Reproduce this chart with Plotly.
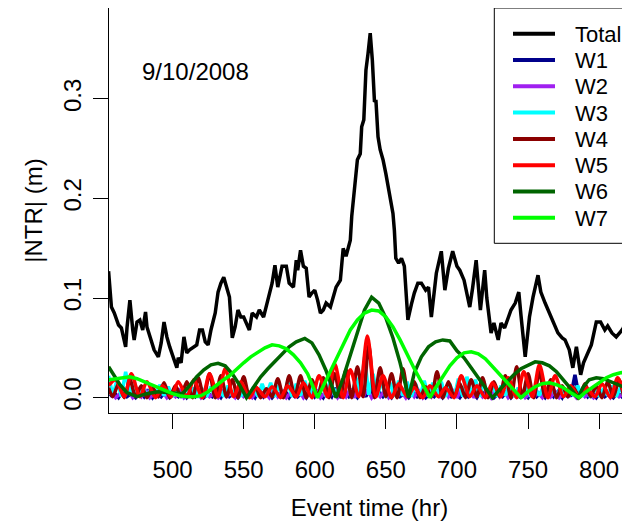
import plotly.graph_objects as go

# ---------------- data ----------------
total_x = [455, 456, 457, 459, 462, 464, 467, 468, 470, 472, 473, 475, 477, 479, 481, 482, 484, 485, 487, 490,
           492, 494, 496, 498, 500, 503, 504, 506, 508, 510, 512, 514, 517, 519, 521, 523, 525, 527, 530, 532,
           534, 536, 538, 540, 542, 544, 546, 548, 550, 552, 554, 556, 559, 561, 564, 567, 570, 572, 574, 577,
           580, 582, 585, 587, 588, 590, 592, 594, 596, 598, 600, 602, 604, 606, 608, 611, 613, 615, 618, 620,
           622, 625, 626, 628, 630, 632, 633, 634.5, 636, 637.5, 639, 640.5, 642, 643, 644.5, 646, 648, 650, 653, 655,
           656, 657, 659, 661, 663, 665.5, 668, 670, 672.5, 675, 678, 680, 682, 685.5, 689, 691.5, 694, 697, 700, 702,
           705, 707, 709, 711, 713.5, 716.5, 719.5, 721, 724, 726, 729, 731, 733.5, 736, 738, 741, 743.5, 745, 748, 751,
           753.5, 757, 759, 762, 766, 769, 771, 774, 776, 779, 781.5, 784, 787, 789, 791, 794.5, 798, 801, 804, 806,
           809, 812, 815, 817, 819, 822]
total_y = [0.127, 0.110, 0.091, 0.085, 0.073, 0.070, 0.051, 0.071, 0.098, 0.068, 0.058, 0.076, 0.078, 0.068, 0.086, 0.071, 0.061, 0.055, 0.048, 0.041,
           0.055, 0.076, 0.061, 0.051, 0.043, 0.030, 0.040, 0.035, 0.061, 0.045, 0.048, 0.050, 0.053, 0.068, 0.068, 0.056, 0.053, 0.068, 0.085, 0.106,
           0.115, 0.121, 0.110, 0.101, 0.060, 0.071, 0.088, 0.081, 0.081, 0.075, 0.068, 0.085, 0.081, 0.088, 0.081, 0.098, 0.115, 0.133, 0.111, 0.132,
           0.132, 0.115, 0.111, 0.138, 0.128, 0.148, 0.132, 0.130, 0.101, 0.105, 0.108, 0.098, 0.085, 0.088, 0.095, 0.091, 0.101, 0.111, 0.118, 0.150,
           0.142, 0.158, 0.182, 0.212, 0.239, 0.245, 0.272, 0.279, 0.329, 0.346, 0.366, 0.339, 0.297, 0.299, 0.262, 0.249, 0.239, 0.225, 0.199, 0.185,
           0.168, 0.140, 0.135, 0.140, 0.132, 0.078, 0.094, 0.105, 0.115, 0.115, 0.108, 0.111, 0.081, 0.125, 0.147, 0.108, 0.130, 0.147, 0.132, 0.128,
           0.118, 0.105, 0.091, 0.110, 0.138, 0.088, 0.128, 0.100, 0.065, 0.075, 0.058, 0.075, 0.070, 0.080, 0.088, 0.095, 0.106, 0.083, 0.041, 0.081,
           0.101, 0.123, 0.106, 0.095, 0.081, 0.071, 0.065, 0.060, 0.058, 0.048, 0.030, 0.051, 0.023, 0.035, 0.041, 0.053, 0.076, 0.076, 0.068, 0.072,
           0.065, 0.061, 0.066, 0.070, 0.080, 0.098]

w1_x = list(range(456, 823, 3))
w1_y = [0.001, 0.005, 0.000, 0.007, 0.001, 0.004, 0.000, 0.006, 0.001, 0.008, 0.000, 0.005, 0.001, 0.006, 0.000, 0.004, 0.001, 0.007, 0.000, 0.005,
        0.001, 0.006, 0.000, 0.004, 0.001, 0.005, 0.000, 0.007, 0.001, 0.004, 0.000, 0.006, 0.001, 0.005, 0.000, 0.008, 0.001, 0.006, 0.000, 0.005,
        0.001, 0.007, 0.000, 0.006, 0.001, 0.005, 0.000, 0.008, 0.001, 0.006, 0.000, 0.007, 0.001, 0.010, 0.000, 0.006, 0.001, 0.005, 0.000, 0.007,
        0.001, 0.011, 0.000, 0.006, 0.001, 0.005, 0.000, 0.007, 0.001, 0.004, 0.000, 0.006, 0.001, 0.005, 0.000, 0.004, 0.001, 0.006, 0.000, 0.005,
        0.001, 0.004, 0.000, 0.006, 0.001, 0.005, 0.000, 0.007, 0.001, 0.005, 0.000, 0.004, 0.001, 0.006, 0.000, 0.005, 0.001, 0.004, 0.000, 0.006,
        0.001, 0.005, 0.000, 0.007, 0.001, 0.006, 0.000, 0.009, 0.001, 0.023, 0.000, 0.008, 0.001, 0.005, 0.000, 0.006, 0.001, 0.004, 0.000, 0.005,
        0.001, 0.006, 0.000]

w2_x = list(range(457, 822, 3))
w2_y = [0.006, 0.000, 0.004, 0.001, 0.007, 0.000, 0.005, 0.001, 0.008, 0.000, 0.004, 0.001, 0.006, 0.000, 0.005, 0.001, 0.007, 0.000, 0.004, 0.001,
        0.006, 0.000, 0.005, 0.001, 0.004, 0.000, 0.006, 0.001, 0.005, 0.000, 0.007, 0.001, 0.004, 0.000, 0.006, 0.001, 0.005, 0.000, 0.008, 0.001,
        0.006, 0.000, 0.005, 0.001, 0.007, 0.000, 0.006, 0.001, 0.008, 0.000, 0.005, 0.001, 0.006, 0.000, 0.007, 0.001, 0.009, 0.000, 0.012, 0.001,
        0.008, 0.000, 0.006, 0.001, 0.007, 0.000, 0.005, 0.001, 0.006, 0.000, 0.008, 0.001, 0.007, 0.000, 0.006, 0.001, 0.008, 0.000, 0.009, 0.001,
        0.007, 0.000, 0.008, 0.001, 0.009, 0.000, 0.007, 0.001, 0.006, 0.000, 0.008, 0.001, 0.007, 0.000, 0.005, 0.001, 0.006, 0.000, 0.004, 0.001,
        0.005, 0.000, 0.007, 0.001, 0.006, 0.000, 0.004, 0.001, 0.005, 0.000, 0.006, 0.001, 0.004, 0.000, 0.005, 0.001, 0.007, 0.000, 0.005, 0.001,
        0.004, 0.000]

w3_x = list(range(455, 822, 3))
w3_y = [0.022, 0.002, 0.018, 0.001, 0.026, 0.003, 0.016, 0.001, 0.012, 0.000, 0.010, 0.001, 0.013, 0.002, 0.011, 0.001, 0.009, 0.000, 0.012, 0.001,
        0.010, 0.002, 0.008, 0.001, 0.011, 0.000, 0.009, 0.001, 0.012, 0.002, 0.010, 0.001, 0.013, 0.000, 0.011, 0.001, 0.014, 0.002, 0.015, 0.001,
        0.013, 0.000, 0.016, 0.001, 0.014, 0.002, 0.017, 0.001, 0.015, 0.000, 0.016, 0.001, 0.018, 0.002, 0.014, 0.001, 0.017, 0.000, 0.020, 0.002,
        0.041, 0.003, 0.024, 0.001, 0.017, 0.000, 0.015, 0.001, 0.017, 0.002, 0.016, 0.001, 0.014, 0.000, 0.017, 0.001, 0.015, 0.002, 0.016, 0.001,
        0.014, 0.000, 0.019, 0.001, 0.021, 0.002, 0.018, 0.001, 0.016, 0.000, 0.014, 0.001, 0.012, 0.002, 0.013, 0.001, 0.010, 0.000, 0.011, 0.001,
        0.009, 0.002, 0.012, 0.001, 0.010, 0.000, 0.011, 0.001, 0.009, 0.002, 0.012, 0.001, 0.010, 0.000, 0.011, 0.001, 0.009, 0.002, 0.012, 0.001,
        0.010, 0.000, 0.011]

w4_x = [455] + list(range(458, 823, 4))
w4_y = [0.010,
        0.001, 0.014, 0.000, 0.018, 0.001, 0.012, 0.000, 0.010, 0.001, 0.015, 0.000, 0.012, 0.001, 0.016, 0.000, 0.020, 0.001, 0.024, 0.000, 0.022,
        0.001, 0.018, 0.000, 0.021, 0.001, 0.012, 0.000, 0.009, 0.001, 0.019, 0.000, 0.022, 0.001, 0.022, 0.000, 0.018, 0.001, 0.020, 0.000, 0.024,
        0.001, 0.028, 0.000, 0.031, 0.001, 0.053, 0.000, 0.030, 0.001, 0.024, 0.000, 0.029, 0.001, 0.016, 0.000, 0.011, 0.001, 0.026, 0.000, 0.016,
        0.001, 0.014, 0.000, 0.018, 0.001, 0.020, 0.000, 0.016, 0.001, 0.022, 0.000, 0.031, 0.001, 0.024, 0.000, 0.026, 0.001, 0.018, 0.000, 0.012,
        0.001, 0.010, 0.000, 0.014, 0.001, 0.012, 0.000, 0.016, 0.001, 0.018, 0.000, 0.020]

w5_x = [455, 460, 466, 471, 477, 482, 488, 493, 499, 504, 510, 515, 521, 526, 532, 537, 543, 548, 554, 559,
        565, 570, 576, 581, 587, 592, 598, 603, 609, 614, 620, 625, 631, 637, 643, 648, 654, 659, 665, 670,
        676, 681, 687, 692, 698, 703, 709, 714, 720, 725, 731, 736, 742, 747, 753, 758, 764, 769, 775, 780,
        786, 791, 797, 802, 808, 813, 819, 822]
w5_y = [0.012, 0.018, 0.001, 0.024, 0.001, 0.016, 0.000, 0.012, 0.001, 0.016, 0.001, 0.018, 0.000, 0.024, 0.001, 0.029, 0.001, 0.016, 0.000, 0.010,
        0.001, 0.011, 0.000, 0.012, 0.001, 0.015, 0.000, 0.022, 0.001, 0.034, 0.000, 0.028, 0.001, 0.062, 0.001, 0.022, 0.000, 0.014, 0.001, 0.010,
        0.000, 0.012, 0.001, 0.010, 0.000, 0.022, 0.001, 0.012, 0.000, 0.015, 0.001, 0.020, 0.000, 0.026, 0.001, 0.033, 0.000, 0.022, 0.001, 0.012,
        0.000, 0.010, 0.001, 0.014, 0.000, 0.020, 0.001, 0.012]

w6_x = [455, 459, 463, 468, 475, 482, 490, 498, 507, 512, 517, 522, 527, 532, 537, 542, 547, 552, 557, 562,
        567, 572, 577, 582, 587, 593, 598, 603, 608, 612, 615, 620, 625, 630, 635, 640, 645, 650, 655, 660,
        666, 670, 675, 680, 685, 690, 695, 700, 705, 710, 715, 720, 725, 730, 735, 740, 745, 750, 755, 760,
        765, 770, 775, 780, 785, 789, 793, 798, 803, 808, 813, 818, 822]
w6_y = [0.031, 0.022, 0.013, 0.005, 0.001, 0.004, 0.006, 0.005, 0.004, 0.012, 0.021, 0.028, 0.033, 0.0345, 0.032, 0.024, 0.013, 0.000, 0.011, 0.021,
        0.029, 0.036, 0.044, 0.051, 0.056, 0.0595, 0.055, 0.043, 0.027, 0.012, 0.000, 0.020, 0.042, 0.066, 0.088, 0.101, 0.095, 0.080, 0.060, 0.035,
        0.000, 0.025, 0.041, 0.051, 0.056, 0.058, 0.057, 0.047, 0.040, 0.030, 0.020, 0.010, 0.000, 0.008, 0.016, 0.023, 0.029, 0.033, 0.036, 0.035,
        0.032, 0.026, 0.018, 0.009, 0.000, 0.011, 0.018, 0.020, 0.019, 0.016, 0.013, 0.010, 0.008]

w7_x = [455, 460, 465, 470, 475, 480, 485, 490, 495, 500, 505, 510, 515, 520, 525, 530, 535, 540, 545, 550,
        555, 560, 565, 570, 575, 580, 585, 590, 595, 602, 606, 610, 615, 620, 625, 630, 635, 640, 645, 650,
        655, 660, 665, 670, 675, 681, 685, 690, 695, 700, 705, 710, 715, 720, 725, 730, 735, 740, 745, 750,
        755, 760, 765, 770, 775, 780, 786, 790, 795, 800, 805, 810, 815, 822]
w7_y = [0.018, 0.019, 0.0205, 0.021, 0.019, 0.016, 0.013, 0.010, 0.007, 0.004, 0.002, 0.001, 0.001, 0.002, 0.006, 0.012, 0.017, 0.022, 0.029, 0.035,
        0.041, 0.046, 0.050, 0.053, 0.052, 0.049, 0.043, 0.035, 0.024, 0.000, 0.012, 0.024, 0.038, 0.054, 0.068, 0.078, 0.085, 0.088, 0.087, 0.081,
        0.071, 0.058, 0.043, 0.029, 0.016, 0.000, 0.010, 0.021, 0.032, 0.040, 0.045, 0.046, 0.044, 0.039, 0.031, 0.023, 0.015, 0.008, 0.000, 0.006,
        0.011, 0.014, 0.015, 0.013, 0.010, 0.005, 0.000, 0.005, 0.010, 0.015, 0.020, 0.023, 0.025, 0.026]

series_names = ["Total", "W1", "W2", "W3", "W4", "W5", "W6", "W7"]
series_colors = ["#000000", "#00008B", "#A020F0", "#00FFFF", "#8B0000", "#FF0000", "#006400", "#00FF00"]
series_x = [total_x, w1_x, w2_x, w3_x, w4_x, w5_x, w6_x, w7_x]
series_y = [total_y, w1_y, w2_y, w3_y, w4_y, w5_y, w6_y, w7_y]
series_shape = ["linear", "linear", "linear", "linear", "spline", "spline", "linear", "linear"]

x_ticks = [500, 550, 600, 650, 700, 750, 800]
y_ticks = [0.0, 0.1, 0.2, 0.3]
event_label = "9/10/2008"

# ---------------- figure ----------------
# the page body has an 8px margin, so the figure is drawn 8px smaller and all
# reference positions (page pixels) are shifted by OFF
OFF = 8
W, H = 630 - OFF, 521 - OFF
ML, MR, MT, MB = 101, 0, 0, 108
PW, PH = W - ML - MR, H - MT - MB
FONT = "Liberation Sans, Arial, Helvetica, sans-serif"


def px_x(px):
    return (px - OFF - ML) / PW


def px_y(py):
    return (H - MB - (py - OFF)) / PH


fig = go.Figure()
for name, color, xs, ys, shp in zip(series_names, series_colors, series_x, series_y, series_shape):
    n = min(len(xs), len(ys))
    fig.add_trace(go.Scatter(
        x=xs[:n], y=ys[:n], mode="lines", name=name,
        line=dict(color=color, width=3.5, shape=shp, smoothing=0.8 if shp == "spline" else None),
        showlegend=False, hoverinfo="skip"))

shapes = []
annotations = []

# legend box (R style), top-right, clipped by the right edge
leg_left, leg_bottom = 494.3, 243.3
shapes.append(dict(type="rect", xref="paper", yref="paper",
                   x0=px_x(leg_left), x1=px_x(640), y0=px_y(leg_bottom), y1=1.0,
                   line=dict(color="black", width=1), fillcolor="rgba(0,0,0,0)", layer="above"))
for i, (name, color) in enumerate(zip(series_names, series_colors)):
    yc = 33.7 + 26.3 * i
    shapes.append(dict(type="line", xref="paper", yref="paper",
                       x0=px_x(513), x1=px_x(555), y0=px_y(yc), y1=px_y(yc),
                       line=dict(color=color, width=4)))
    annotations.append(dict(xref="paper", yref="paper", x=px_x(573), y=px_y(yc + 0.5),
                            text=name, showarrow=False, xanchor="left", yanchor="middle",
                            font=dict(family=FONT, size=22, color="black")))

annotations.append(dict(xref="paper", yref="paper", x=px_x(195), y=px_y(72),
                        text=event_label, showarrow=False, xanchor="center", yanchor="middle",
                        font=dict(family=FONT, size=24, color="black")))

fig.update_layout(
    width=W, height=H,
    margin=dict(l=ML, r=MR, t=MT, b=MB, pad=0),
    paper_bgcolor="white", plot_bgcolor="white",
    font=dict(family=FONT, size=24, color="black"),
    shapes=shapes, annotations=annotations,
    showlegend=False,
)
fig.update_xaxes(
    range=[455.3, 821.7], tickvals=x_ticks, ticktext=[str(v) for v in x_ticks],
    ticks="outside", ticklen=15, tickwidth=1, tickcolor="black",
    showline=True, linecolor="black", linewidth=1, mirror=True,
    showgrid=False, zeroline=False,
    tickfont=dict(family=FONT, size=24, color="black"), ticklabelstandoff=20,
    title=dict(text="Event time (hr)", font=dict(family=FONT, size=24, color="black"), standoff=20),
)
fig.update_yaxes(
    range=[-0.0154, 0.3913], tickvals=y_ticks, ticktext=["%.1f" % v for v in y_ticks],
    ticks="outside", ticklen=15, tickwidth=1, tickcolor="black",
    showline=True, linecolor="black", linewidth=1, mirror=False,
    showgrid=False, zeroline=False, tickangle=-90,
    tickfont=dict(family=FONT, size=24, color="black"), ticklabelstandoff=2,
    title=dict(text="|NTR| (m)", font=dict(family=FONT, size=24, color="black"), standoff=10),
)

fig.write_html("out.html")
